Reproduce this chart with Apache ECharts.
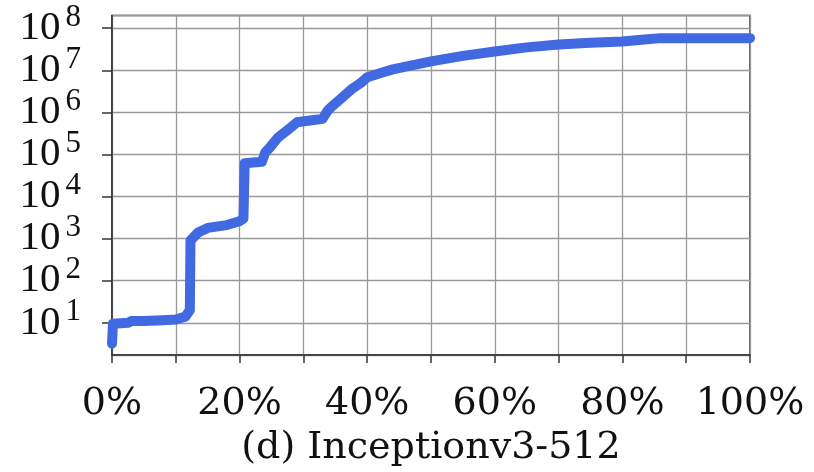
<!DOCTYPE html>
<html>
<head>
<meta charset="utf-8">
<script src="https://cdn.jsdelivr.net/npm/echarts@6/dist/echarts.min.js"></script>
<style>html,body{margin:0;padding:0;background:#fff;}#c{width:814px;height:472px;}</style>
</head>
<body>
<div id="c"></div>
<script>
// Fraction of items (%) and value (log scale)
const xPercent = [0, 0.15, 2.5, 3, 5, 8, 10, 11.5, 12.2, 12.3, 13.5, 15, 18, 20, 20.6, 20.8, 23.5, 24, 24.8, 26, 27.5, 29, 31, 33, 33.8, 34.5, 36, 37.5, 39, 40, 42, 44, 47, 50, 55, 60, 65, 70, 75, 80, 83, 86, 100];
const yValues = [3.2, 9.5, 10, 11, 11, 11.5, 12, 14, 20, 900, 1400, 1800, 2100, 2600, 3000, 62000, 67000, 110000, 150000, 250000, 380000, 580000, 640000, 700000, 1100000, 1400000, 2200000, 3500000, 5000000, 6800000, 8500000, 10500000, 13000000, 16200000, 22000000, 28000000, 35000000, 41000000, 45000000, 48000000, 53000000, 58000000, 58000000];
const xTickLabels = ['0%', '20%', '40%', '60%', '80%', '100%'];
const chartTitle = '(d) Inceptionv3-512';

const seriesData = xPercent.map((x, i) => [x, yValues[i]]);
const chart = echarts.init(document.getElementById('c'));
chart.setOption({
  animation: false,
  backgroundColor: '#fff',
  grid: { left: 112, right: 64, top: 15.5, bottom: 115, show: true, borderColor: '#333', borderWidth: 1.5, backgroundColor: 'transparent' },
  xAxis: {
    type: 'value', min: 0, max: 100, interval: 10,
    name: chartTitle, nameLocation: 'middle', nameGap: 74,
    nameTextStyle: { fontFamily: 'DejaVu Serif', fontSize: 38, color: '#111' },
    axisLine: { lineStyle: { color: '#333', width: 1.5 } },
    axisTick: { show: true, length: 8, lineStyle: { color: '#333', width: 1.5 } },
    splitLine: { show: true, lineStyle: { color: '#999', width: 1.3 } },
    axisLabel: {
      margin: 30, fontFamily: 'DejaVu Serif', fontSize: 38, color: '#111', lineHeight: 38,
      formatter: v => { const i = xTickLabels.indexOf(Math.round(v) + '%'); return (Math.round(v) % 20 === 0 && i >= 0) ? xTickLabels[i] : ''; }
    }
  },
  yAxis: {
    type: 'log', logBase: 10, min: 1.72, max: 2.0e8,
    axisLine: { show: true, lineStyle: { color: '#333', width: 1.5 } },
    axisTick: { show: true, length: 10, lineStyle: { color: '#333', width: 1.5 } },
    splitLine: { show: true, lineStyle: { color: '#999', width: 1.3 } },
    minorTick: { show: false },
    axisLabel: {
      margin: 31, showMinLabel: false, showMaxLabel: false,
      formatter: v => { const l = Math.log10(v); const e = Math.round(l); if (Math.abs(l - e) > 0.01) return ''; return '{b|10}{s|' + e + '}'; },
      rich: {
        b: { fontFamily: 'Liberation Serif', fontSize: 41, color: '#111', lineHeight: 52 },
        s: { fontFamily: 'Liberation Serif', fontSize: 31, color: '#111', lineHeight: 30, verticalAlign: 'top', padding: [0, 0, 0, 5] }
      }
    }
  },
  series: [{
    type: 'line', data: seriesData, showSymbol: false, smooth: false,
    lineStyle: { color: '#4169E1', width: 10, cap: 'round', join: 'round' },
    clip: true
  }]
});
</script>
</body>
</html>
